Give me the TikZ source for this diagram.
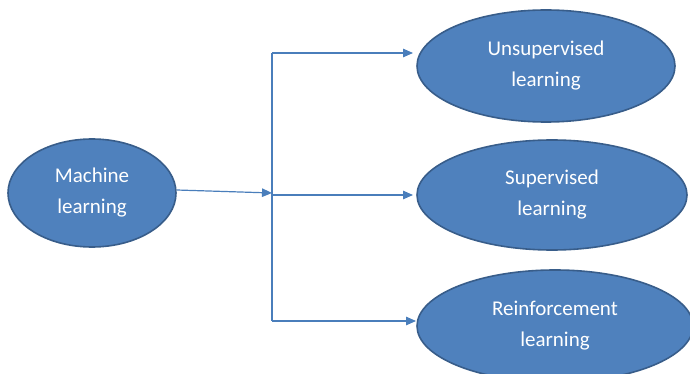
\documentclass[tikz,border=0pt]{standalone}
\usepackage{fontspec}
\setmainfont{Carlito}
\usetikzlibrary{shapes.geometric,arrows.meta}
\definecolor{ovfill}{HTML}{4F81BD}
\definecolor{ovline}{HTML}{385D8A}
\definecolor{arrcol}{HTML}{4A7EBB}
\tikzset{
  oval/.style={ellipse, fill=ovfill, draw=ovline, line width=1.6pt, inner sep=0pt,
    text=white, align=center, font=\fontsize{21}{31}\selectfont},
  conn/.style={draw=arrcol, line width=1.2pt},
  arr/.style={conn, -{Triangle[length=10pt,width=8.5pt]}}
}
\begin{document}
\begin{tikzpicture}[x=1pt,y=-1pt]
\useasboundingbox (0,0) rectangle (690,374);
\begin{scope}
\clip (0,0) rectangle (690,374);
\node[oval, minimum width=168pt, minimum height=108pt] (ml) at (92,193) {Machine\\learning};
\node[oval, minimum width=258pt, minimum height=112pt] (uns) at (546,66) {Unsupervised\\learning};
\node[oval, minimum width=270pt, minimum height=110pt] (sup) at (552,195) {Supervised\\learning};
\node[oval, minimum width=276pt, minimum height=112pt] (rei) at (555,326) {Reinforcement\\learning};
\end{scope}
\coordinate (jin) at (272,193);
\coordinate (jtop) at (272,53);
\coordinate (jmid) at (272,195);
\coordinate (jbot) at (272,321);
\coordinate (t1) at (413,53);
\coordinate (t2) at (413,195);
\coordinate (t3) at (416,321);
\draw[arr] ([yshift=3pt]ml.east) -- (jin);
\draw[conn] (jtop) -- (jbot);
\draw[arr] (jtop) -- (t1);
\draw[arr] (jmid) -- (t2);
\draw[arr] (jbot) -- (t3);
\end{tikzpicture}
\end{document}
